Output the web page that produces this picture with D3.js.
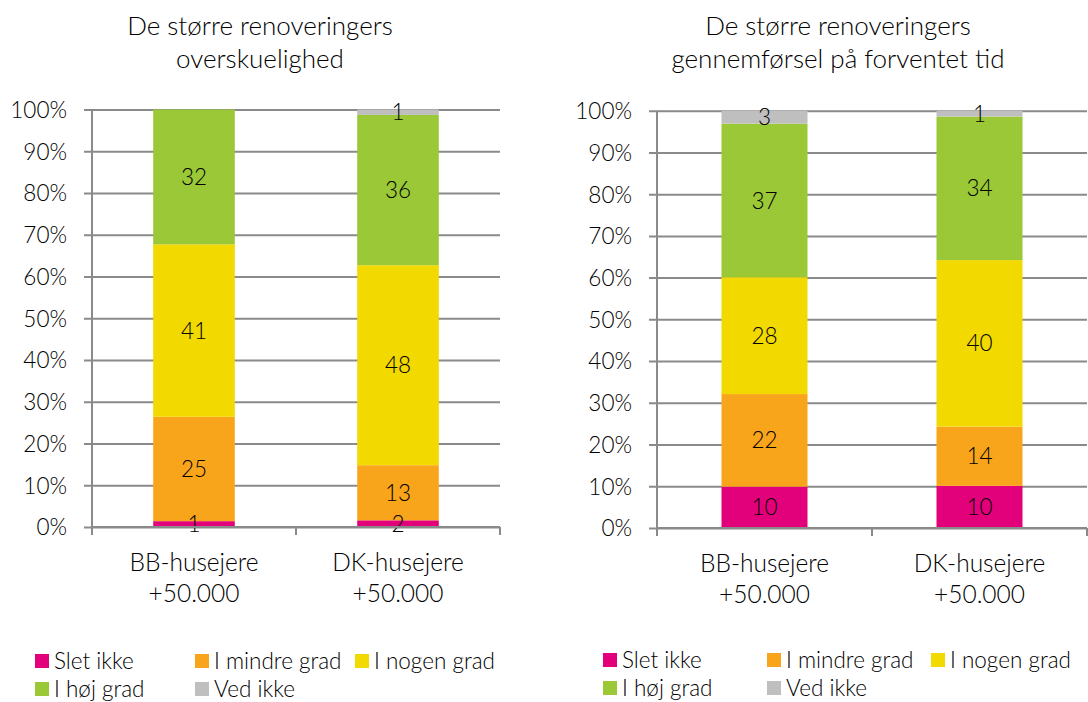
<!DOCTYPE html>
<html>
<head>
<meta charset="utf-8">
<script src="https://cdn.jsdelivr.net/npm/d3@7"></script>
<style>
  html, body { margin: 0; padding: 0; background: #fff; }
  svg text { font-family: Lato, "Open Sans", sans-serif; font-weight: 300; fill: #000; }
</style>
</head>
<body>
<svg id="chart" width="1088" height="702"></svg>
<script>
// ---- data ----
const seriesNames = ["Slet ikke", "I mindre grad", "I nogen grad", "I høj grad", "Ved ikke"];
const seriesColors = ["#E3007B", "#F9A51B", "#F2D900", "#9AC836", "#BFBFBF"];
const categoryLines = [["BB-husejere", "+50.000"], ["DK-husejere", "+50.000"]];
const yTickValues = [0, 10, 20, 30, 40, 50, 60, 70, 80, 90, 100];

const leftTitle = ["De større renoveringers", "overskuelighed"];
const leftBB = [1.4, 25.0, 41.3, 32.3, 0];
const leftDK = [1.6, 13.2, 47.9, 36.0, 1.3];

const rightTitle = ["De større renoveringers", "gennemførsel på forventet tid"];
const rightBB = [9.9, 22.2, 28.0, 36.8, 3.1];
const rightDK = [10.1, 14.2, 39.9, 34.4, 1.4];

const svg = d3.select("#chart");
const FS_TICK = 22.5, FS_LABEL = 22.5, FS_CAT = 24.5, FS_TITLE = 26, FS_LEG = 22.5;

function drawChart(opt) {
  const g = svg.append("g");
  const x = d3.scaleBand().domain([0, 1]).range([opt.x0, opt.x1]).paddingInner(0.6).paddingOuter(0.3);
  const y = d3.scaleLinear().domain([0, 100]).range([opt.y0, opt.y1]);

  // title
  const tt = g.append("text").attr("text-anchor", "middle").style("font-size", FS_TITLE + "px");
  opt.title.forEach((line, i) => {
    tt.append("tspan").attr("x", opt.titleX).attr("y", 35 + i * 33).text(line);
  });

  // gridlines + y ticks
  const yAxis = d3.axisLeft(y).tickValues(yTickValues).tickFormat(d => d + "%")
    .tickSize(-(opt.x1 - opt.x0)).tickPadding(25);
  const ya = g.append("g").attr("transform", `translate(${opt.x0},0)`).call(yAxis);
  ya.select(".domain").remove();
  ya.selectAll(".tick line").attr("stroke", "#8a8a8a").attr("stroke-width", 2).attr("x1", -8);
  ya.selectAll(".tick text").style("font-size", FS_TICK + "px").attr("dy", "0.35em");

  // stacked bars
  const cats = [opt.bb, opt.dk];
  cats.forEach((vals, ci) => {
    let cum = 0;
    vals.forEach((v, si) => {
      const lo = cum, hi = cum + v;
      cum = hi;
      if (v <= 0) return;
      g.append("rect")
        .attr("x", x(ci)).attr("width", x.bandwidth())
        .attr("y", y(hi)).attr("height", y(lo) - y(hi))
        .attr("fill", seriesColors[si]);
    });
  });
  // labels
  cats.forEach((vals, ci) => {
    let cum = 0;
    vals.forEach((v, si) => {
      const lo = cum, hi = cum + v;
      cum = hi;
      if (v <= 0) return;
      g.append("text")
        .attr("x", x(ci) + x.bandwidth() / 2)
        .attr("y", y((lo + hi) / 2))
        .attr("dy", "0.36em")
        .attr("text-anchor", "middle")
        .style("font-size", FS_LABEL + "px")
        .text(Math.round(v));
    });
  });

  // y axis line
  g.append("line").attr("x1", opt.x0).attr("x2", opt.x0).attr("y1", opt.y1).attr("y2", opt.y0 + 8)
    .attr("stroke", "#8a8a8a").attr("stroke-width", 2);
  // x axis line + ticks
  g.append("line").attr("x1", opt.x0).attr("x2", opt.x1).attr("y1", opt.y0).attr("y2", opt.y0)
    .attr("stroke", "#8a8a8a").attr("stroke-width", 2);
  const step = x.step();
  [0, 1, 2].forEach(i => {
    const xx = opt.x0 + i * step;
    g.append("line").attr("x1", xx).attr("x2", xx).attr("y1", opt.y0).attr("y2", opt.y0 + 8)
      .attr("stroke", "#8a8a8a").attr("stroke-width", 2);
  });

  // category labels
  categoryLines.forEach((lines, ci) => {
    const t = g.append("text").attr("text-anchor", "middle").style("font-size", FS_CAT + "px");
    lines.forEach((line, li) => {
      t.append("tspan").attr("x", x(ci) + x.bandwidth() / 2)
        .attr("y", opt.y0 + 44 + li * 31).text(line);
    });
  });

  // legend
  seriesNames.forEach((name, i) => {
    const col = i % 3, row = Math.floor(i / 3);
    const lx = opt.legendX + col * opt.legendStep;
    const ly = opt.legendY + row * 28;
    g.append("rect").attr("x", lx).attr("y", ly - 7).attr("width", 14).attr("height", 14)
      .attr("fill", seriesColors[i]);
    g.append("text").attr("x", lx + 19).attr("y", ly).attr("dy", "0.35em")
      .style("font-size", FS_LEG + "px").text(name);
  });
}

drawChart({ x0: 92, x1: 500, y0: 527, y1: 109.5, titleX: 260, title: leftTitle,
  bb: leftBB, dk: leftDK, legendX: 35, legendY: 661, legendStep: 160 });
drawChart({ x0: 657, x1: 1087, y0: 528, y1: 110.7, titleX: 838, title: rightTitle,
  bb: rightBB, dk: rightDK, legendX: 603, legendY: 660, legendStep: 164 });
</script>
</body>
</html>
